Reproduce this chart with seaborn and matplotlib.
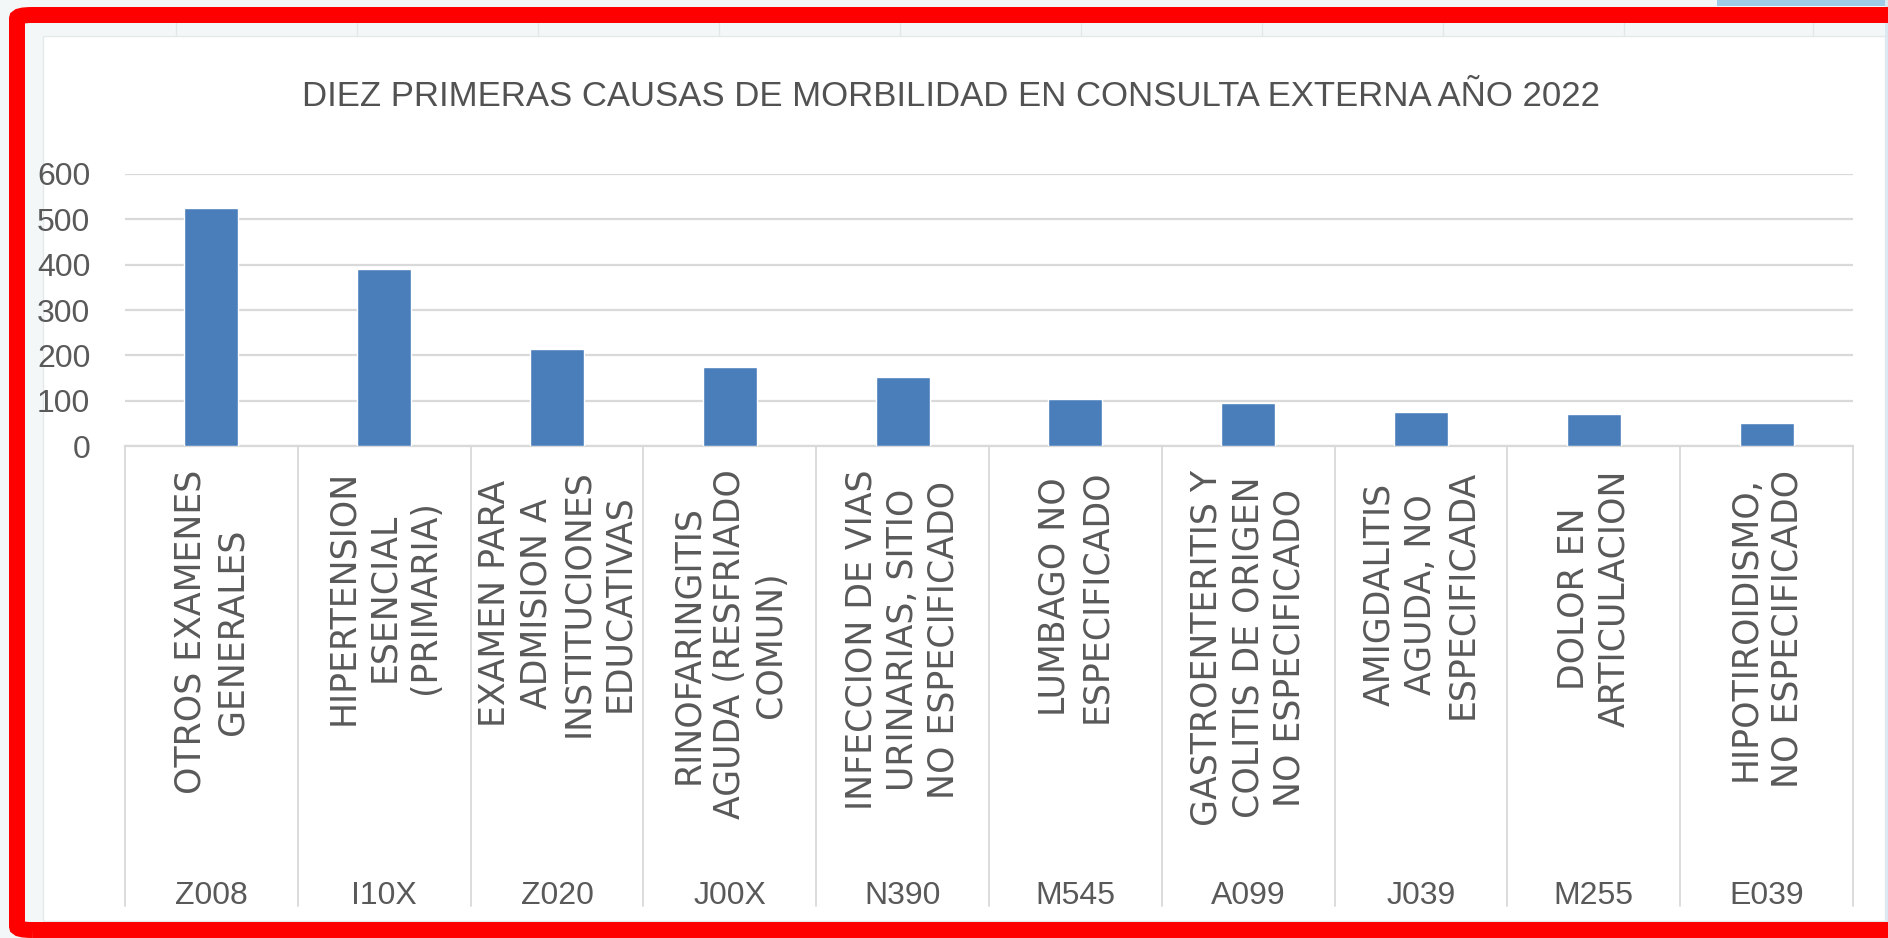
import matplotlib
matplotlib.use("Agg")
import matplotlib.pyplot as plt
from matplotlib.patches import Rectangle, FancyBboxPatch
from matplotlib.lines import Line2D
import seaborn as sns
import pandas as pd

# Diagnosis codes (CIE-10), descriptions and number of consultations
codes = ["Z008", "I10X", "Z020", "J00X", "N390", "M545", "A099", "J039", "M255", "E039"]
descriptions = [
    "OTROS EXAMENES\nGENERALES",
    "HIPERTENSION\nESENCIAL\n(PRIMARIA)",
    "EXAMEN PARA\nADMISION A\nINSTITUCIONES\nEDUCATIVAS",
    "RINOFARINGITIS\nAGUDA (RESFRIADO\nCOMUN)",
    "INFECCION DE VIAS\nURINARIAS, SITIO\nNO ESPECIFICADO",
    "LUMBAGO NO\nESPECIFICADO",
    "GASTROENTERITIS Y\nCOLITIS DE ORIGEN\nNO ESPECIFICADO",
    "AMIGDALITIS\nAGUDA, NO\nESPECIFICADA",
    "DOLOR EN\nARTICULACION",
    "HIPOTIROIDISMO,\nNO ESPECIFICADO",
]
casos = [524, 390, 214, 174, 152, 104, 95, 75, 70, 51]
y_ticks = [0, 100, 200, 300, 400, 500, 600]
titulo = "DIEZ PRIMERAS CAUSAS DE MORBILIDAD EN CONSULTA EXTERNA AÑO 2022"

sns.set_theme(style="white")
NARROW = ["Liberation Sans", "DejaVu Sans"]
WIDE = ["DejaVu Sans"]
TXT = "#595959"
BAR = "#4a7ebb"
GRID = "#d9d9d9"

W, H = 1888, 938
fig = plt.figure(figsize=(W / 100, H / 100), dpi=100)
fig.patch.set_facecolor("#f3f7f7")


def fx(px):
    return px / W


def fy(py):
    return 1 - py / H


# white chart area
fig.patches.append(Rectangle((fx(43), fy(921)), fx(1885) - fx(43), fy(36) - fy(921),
                             transform=fig.transFigure, facecolor="white",
                             edgecolor="#e4eaea", lw=1, zorder=-3))
# faint sheet column lines above the chart area
for xc in [176, 357, 538, 719, 900, 1081, 1262, 1443, 1624, 1813]:
    fig.lines.append(Line2D([fx(xc), fx(xc)], [fy(22), fy(36)], transform=fig.transFigure,
                            color="#e2e8e8", lw=1, zorder=-2))
# light blue strips at the top right and right edge
fig.patches.append(Rectangle((fx(1717), fy(6)), 1 - fx(1717), fy(0) - fy(6),
                             transform=fig.transFigure, facecolor="#9fcbe6",
                             edgecolor="none", zorder=-2))
fig.patches.append(Rectangle((fx(1885), 0), 1 - fx(1885), 1,
                             transform=fig.transFigure, facecolor="#dbe9f2",
                             edgecolor="none", zorder=-2))
# red frame
fig.patches.append(FancyBboxPatch((fx(17), fy(930)), fx(1960) - fx(17), fy(15) - fy(930),
                                  boxstyle="round,pad=0,rounding_size=0.008",
                                  transform=fig.transFigure, facecolor="none",
                                  edgecolor="#ff0000", lw=11.5, zorder=5,
                                  mutation_aspect=H / W))

# plot area
ax_left, ax_right = 125, 1853
ax_top, ax_bottom = 174, 446
ax = fig.add_axes([fx(ax_left), fy(ax_bottom), fx(ax_right) - fx(ax_left), fy(ax_top) - fy(ax_bottom)])
ax.set_facecolor("none")

df = pd.DataFrame({"codigo": codes, "casos": casos})
sns.barplot(data=df, x="codigo", y="casos", order=codes, color=BAR, saturation=1,
            width=0.3125, ax=ax, zorder=3)

ax.set_xlim(-0.5, len(codes) - 0.5)
ax.set_ylim(0, 600)
ax.set_yticks(y_ticks)
ax.set_yticklabels([str(v) for v in y_ticks], family=NARROW, fontsize=23, color=TXT)
ax.yaxis.grid(True, color=GRID, lw=1.6, zorder=0)
ax.set_axisbelow(True)
for s in ["left", "right", "top"]:
    ax.spines[s].set_visible(False)
ax.spines["bottom"].set_color(GRID)
ax.spines["bottom"].set_linewidth(1.6)
ax.tick_params(axis="y", length=0, pad=25)
ax.tick_params(axis="x", length=0, pad=17)
ax.set_xlabel("")
ax.set_ylabel("")

ax.set_xticks(range(len(codes)))
ax.set_xticklabels(descriptions, rotation=90, family=WIDE, fontsize=25, color=TXT,
                   ha="center", va="top", multialignment="center", linespacing=1.27)

# category separators and code labels below the axis
h_ax = ax_bottom - ax_top
trans = ax.get_xaxis_transform()
sep_end = -(906 - ax_bottom) / h_ax
for i in range(len(codes) + 1):
    ax.plot([i - 0.5, i - 0.5], [0, sep_end], transform=trans, color=GRID, lw=1.3,
            clip_on=False, zorder=1)
code_y = -(896 - ax_bottom) / h_ax
for i, c in enumerate(codes):
    ax.text(i, code_y, c, transform=trans, ha="center", va="center",
            family=NARROW, fontsize=23, color=TXT)

fig.text(fx(951), fy(96), titulo, ha="center", va="center", family=NARROW,
         fontsize=25, color="#525252")

fig.savefig("out.png", dpi=100, facecolor=fig.get_facecolor())
